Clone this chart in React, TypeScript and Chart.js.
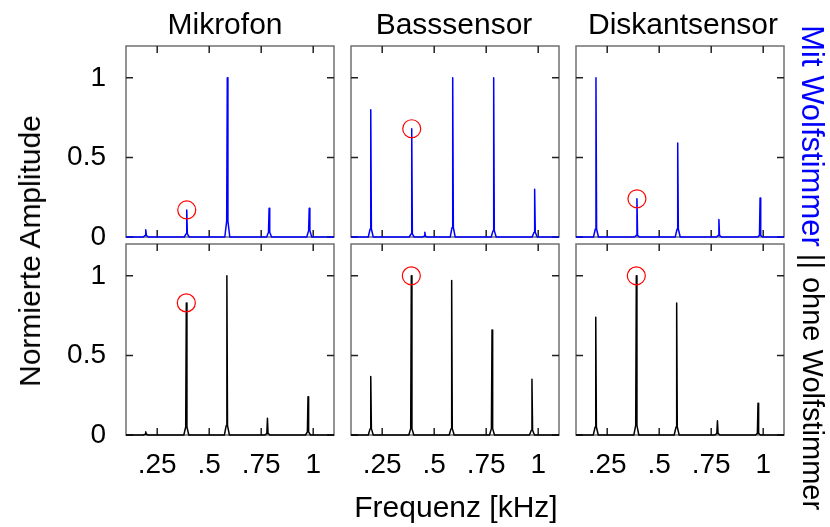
import React, { useEffect, useRef } from "react";
import { Chart, registerables } from "chart.js";

Chart.register(...registerables);

// ---------- data ----------
const panelTitles = ["Mikrofon", "Basssensor", "Diskantsensor"];
const xTickValues = [0.25, 0.5, 0.75, 1];
const xTickLabels = [".25", ".5", ".75", "1"];
const yTickValues = [0, 0.5, 1];
const yTickLabels = ["0", "0.5", "1"];

// with wolf-tone eliminator (top row, blue)
const mikTopFreqs = [0.195, 0.392, 0.587, 0.788, 0.981];
const mikTopAmps = [0.045, 0.17, 1.0, 0.18, 0.18];
const mikTopSkirts = [0.01, 0.02, 0.1, 0.03, 0.04];
const mikTopMarker = { x: 0.392, y: 0.17 };

const bassTopFreqs = [0.195, 0.392, 0.455, 0.589, 0.786, 0.983];
const bassTopAmps = [0.8, 0.68, 0.03, 1.0, 1.0, 0.3];
const bassTopSkirts = [0.05, 0.02, 0.005, 0.06, 0.04, 0.03];
const bassTopMarker = { x: 0.392, y: 0.68 };

const diskTopFreqs = [0.196, 0.393, 0.589, 0.787, 0.985];
const diskTopAmps = [1.0, 0.24, 0.59, 0.11, 0.245];
const diskTopSkirts = [0.05, 0.01, 0.05, 0.01, 0.01];
const diskTopMarker = { x: 0.393, y: 0.24 };

// without wolf-tone eliminator (bottom row, black)
const mikBotFreqs = [0.195, 0.39, 0.585, 0.78, 0.975];
const mikBotAmps = [0.02, 0.83, 1.0, 0.105, 0.24];
const mikBotSkirts = [0.005, 0.05, 0.06, 0.01, 0.02];
const mikBotMarker = { x: 0.39, y: 0.83 };

const bassBotFreqs = [0.195, 0.39, 0.584, 0.778, 0.97];
const bassBotAmps = [0.367, 1.0, 0.97, 0.66, 0.35];
const bassBotSkirts = [0.04, 0.04, 0.04, 0.04, 0.03];
const bassBotMarker = { x: 0.39, y: 1.0 };

const diskBotFreqs = [0.195, 0.39, 0.584, 0.78, 0.975];
const diskBotAmps = [0.74, 1.0, 0.83, 0.09, 0.2];
const diskBotSkirts = [0.05, 0.06, 0.05, 0.01, 0.01];
const diskBotMarker = { x: 0.39, y: 1.0 };

const X_MIN = 0.1;
const X_MAX = 1.1;
const Y_MIN = 0;
const Y_MAX = 1.2;

// ---------- layout ----------
const W = 830;
const H = 527;
const colLeft = [126, 351, 576];
const titleCenters = [225, 454, 683];
const plotW = 208;
const rowTop = [46, 244];
const plotH = 191;
const Y_AXIS_W = 80;
const X_AXIS_H = 50;
const FONT = '"Liberation Sans", Arial, Helvetica, sans-serif';

type Pt = { x: number; y: number };

function spectrum(freqs: number[], amps: number[], skirts: number[]): Pt[] {
  const pts: Pt[] = [{ x: X_MIN, y: 0 }];
  freqs.forEach((f, i) => {
    pts.push(
      { x: f - 0.012, y: 0 },
      { x: f - 0.003, y: skirts[i] },
      { x: f, y: amps[i] },
      { x: f + 0.003, y: skirts[i] },
      { x: f + 0.012, y: 0 }
    );
  });
  pts.push({ x: X_MAX, y: 0 });
  return pts;
}

const panels = [
  { row: 0, col: 0, color: "#0000ff", f: mikTopFreqs, a: mikTopAmps, s: mikTopSkirts, m: mikTopMarker },
  { row: 0, col: 1, color: "#0000ff", f: bassTopFreqs, a: bassTopAmps, s: bassTopSkirts, m: bassTopMarker },
  { row: 0, col: 2, color: "#0000ff", f: diskTopFreqs, a: diskTopAmps, s: diskTopSkirts, m: diskTopMarker },
  { row: 1, col: 0, color: "#000000", f: mikBotFreqs, a: mikBotAmps, s: mikBotSkirts, m: mikBotMarker },
  { row: 1, col: 1, color: "#000000", f: bassBotFreqs, a: bassBotAmps, s: bassBotSkirts, m: bassBotMarker },
  { row: 1, col: 2, color: "#000000", f: diskBotFreqs, a: diskBotAmps, s: diskBotSkirts, m: diskBotMarker },
];

const framePlugin = {
  id: "frameTicks",
  beforeDatasetsDraw(chart: any) {
    const { ctx, chartArea: a, scales } = chart;
    ctx.save();
    ctx.strokeStyle = "#707070";
    ctx.lineWidth = 1.5;
    ctx.strokeRect(a.left, a.top, a.right - a.left, a.bottom - a.top);
    ctx.strokeStyle = "#222";
    ctx.lineWidth = 1.5;
    ctx.beginPath();
    const TL = 7;
    for (const v of xTickValues) {
      const px = scales.x.getPixelForValue(v);
      ctx.moveTo(px, a.bottom);
      ctx.lineTo(px, a.bottom - TL);
      ctx.moveTo(px, a.top);
      ctx.lineTo(px, a.top + TL);
    }
    for (const v of yTickValues) {
      const py = scales.y.getPixelForValue(v);
      ctx.moveTo(a.left, py);
      ctx.lineTo(a.left + TL, py);
      ctx.moveTo(a.right, py);
      ctx.lineTo(a.right - TL, py);
    }
    ctx.stroke();
    ctx.restore();
  },
};

function Panel({ p }: { p: (typeof panels)[number] }) {
  const ref = useRef<HTMLCanvasElement>(null);
  useEffect(() => {
    if (!ref.current) return;
    const showY = p.col === 0;
    const showX = p.row === 1;
    const left = colLeft[p.col];
    const top = rowTop[p.row];
    const padding = {
      left: showY ? left - Y_AXIS_W : left,
      top: top,
      right: W - (left + plotW),
      bottom: showX ? H - (top + plotH) - X_AXIS_H : H - (top + plotH),
    };
    const xScale: any = {
      type: "linear",
      min: X_MIN,
      max: X_MAX,
      display: showX,
      grid: { display: false, drawTicks: false },
      border: { display: false },
      afterBuildTicks: (s: any) => {
        s.ticks = xTickValues.map((v) => ({ value: v }));
      },
      ticks: {
        autoSkip: false,
        maxRotation: 0,
        padding: 13,
        color: "#000",
        font: { family: FONT, size: 28 },
        callback: (v: number) => {
          const i = xTickValues.indexOf(v);
          return i >= 0 ? xTickLabels[i] : "";
        },
      },
    };
    if (showX) xScale.afterFit = (s: any) => { s.height = X_AXIS_H; };
    const yScale: any = {
      type: "linear",
      min: Y_MIN,
      max: Y_MAX,
      display: showY,
      grid: { display: false, drawTicks: false },
      border: { display: false },
      afterBuildTicks: (s: any) => {
        s.ticks = yTickValues.map((v) => ({ value: v }));
      },
      ticks: {
        autoSkip: false,
        padding: 20,
        color: "#000",
        font: { family: FONT, size: 28 },
        callback: (v: number) => {
          const i = yTickValues.indexOf(v);
          return i >= 0 ? yTickLabels[i] : "";
        },
      },
    };
    if (showY) yScale.afterFit = (s: any) => { s.width = Y_AXIS_W; };

    const chart = new Chart(ref.current, {
      type: "line",
      data: {
        datasets: [
          {
            data: [p.m],
            showLine: false,
            pointRadius: 9,
            pointStyle: "circle",
            pointBorderColor: "#ff0000",
            pointBackgroundColor: "rgba(0,0,0,0)",
            pointBorderWidth: 1.2,
            borderColor: "#ff0000",
            clip: false,
          } as any,
          {
            data: spectrum(p.f, p.a, p.s),
            borderColor: p.color,
            borderWidth: 1.5,
            borderJoinStyle: "round",
            pointRadius: 0,
            tension: 0,
            fill: false,
            clip: false,
          } as any,
        ],
      },
      options: {
        animation: false,
        responsive: false,
        maintainAspectRatio: false,
        events: [],
        layout: { padding },
        plugins: { legend: { display: false }, tooltip: { enabled: false }, title: { display: false } },
        scales: { x: xScale, y: yScale },
      },
      plugins: [framePlugin],
    });
    return () => chart.destroy();
  }, [p]);
  return (
    <canvas
      ref={ref}
      width={W}
      height={H}
      style={{ position: "absolute", left: 0, top: 0, width: W, height: H }}
    />
  );
}

const textBase: React.CSSProperties = {
  position: "absolute",
  fontFamily: FONT,
  fontSize: 30,
  lineHeight: 1,
  whiteSpace: "nowrap",
  color: "#000",
};

export default function App() {
  return (
    <div
      style={{
        position: "absolute",
        left: 0,
        top: 0,
        width: W,
        height: H,
        background: "#fff",
        overflow: "hidden",
      }}
    >
      {panels.map((p, i) => (
        <Panel key={i} p={p} />
      ))}
      {panelTitles.map((t, i) => (
        <div
          key={t}
          style={{
            ...textBase,
            left: titleCenters[i],
            top: 23.5,
            transform: "translate(-50%, -50%)",
          }}
        >
          {t}
        </div>
      ))}
      <div
        style={{
          ...textBase,
          left: 456,
          top: 507,
          transform: "translate(-50%, -50%)",
        }}
      >
        Frequenz [kHz]
      </div>
      <div
        style={{
          ...textBase,
          left: 30,
          top: 251,
          transform: "translate(-50%, -50%) rotate(-90deg)",
        }}
      >
        Normierte Amplitude
      </div>
      <div
        style={{
          ...textBase,
          fontSize: 31,
          color: "#0000ff",
          left: 812,
          top: 136,
          transform: "translate(-50%, -50%) rotate(90deg)",
        }}
      >
        Mit Wolfstimmer
      </div>
      <div
        style={{
          ...textBase,
          fontSize: 29,
          left: 812,
          top: 382,
          transform: "translate(-50%, -50%) rotate(90deg)",
        }}
      >
        || ohne Wolfstimmer
      </div>
    </div>
  );
}
